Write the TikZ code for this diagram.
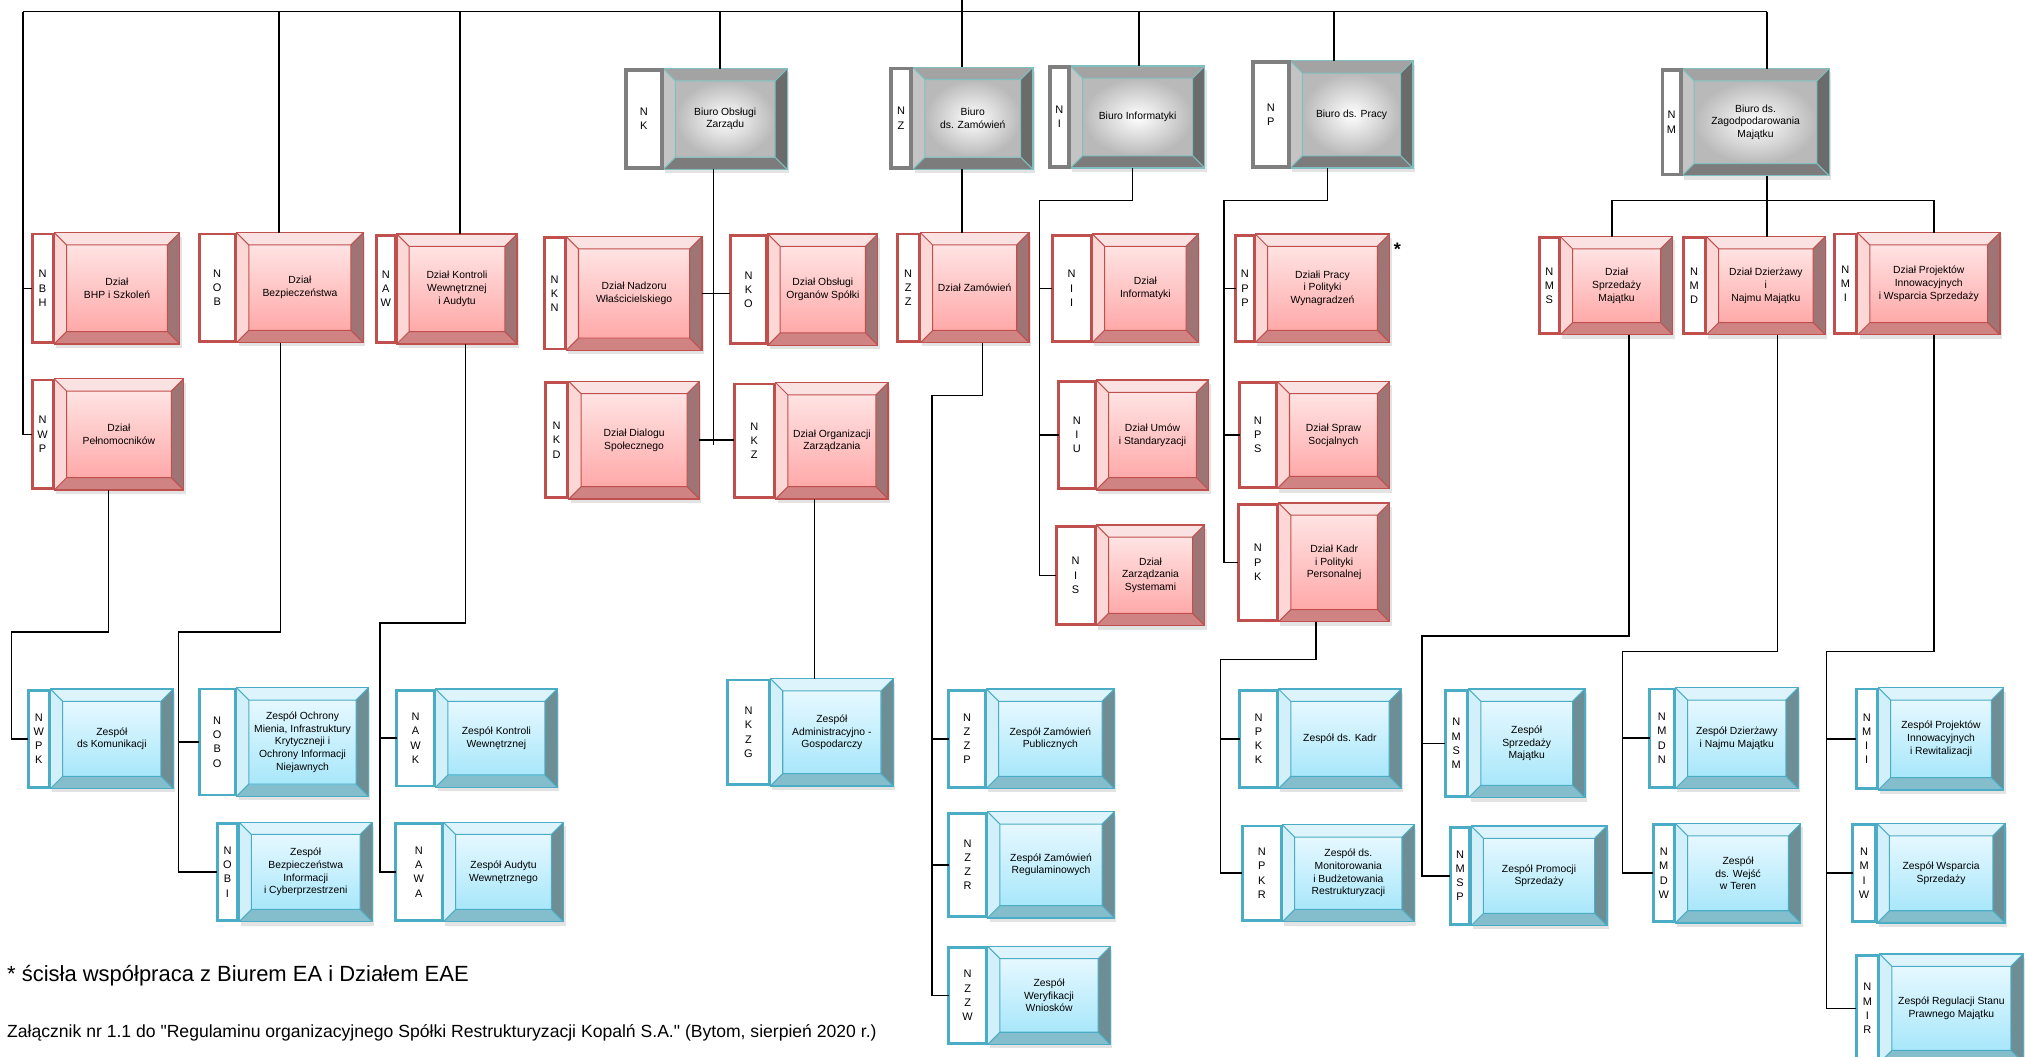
\documentclass[tikz,border=0pt]{standalone}
\usepackage{fontspec}
\setmainfont{Liberation Sans}[Ligatures=TeXOff]
\usetikzlibrary{shadows}
% colours of the three levels
\definecolor{redline}{HTML}{C0504D}
\definecolor{redtop}{HTML}{FBE2E2}
\definecolor{redleft}{HTML}{FDD6D6}
\definecolor{redright}{HTML}{9E7474}
\definecolor{redbottom}{HTML}{CF8383}
\definecolor{redface1}{HTML}{FFE3E3}
\definecolor{redface2}{HTML}{FFA9A9}
\definecolor{blueline}{HTML}{4BACC6}
\definecolor{bluetop}{HTML}{DDF4FC}
\definecolor{blueleft}{HTML}{D2F0FA}
\definecolor{blueright}{HTML}{6E8E96}
\definecolor{bluebottom}{HTML}{84BDCB}
\definecolor{blueface1}{HTML}{E6F8FF}
\definecolor{blueface2}{HTML}{A8E7FA}
\definecolor{grayline}{HTML}{7FBFBF}
\definecolor{graytop}{HTML}{A3A3A3}
\definecolor{grayleft}{HTML}{C4C4C4}
\definecolor{grayright}{HTML}{6B6B6B}
\definecolor{graybottom}{HTML}{7C7C7C}
\definecolor{graytag}{HTML}{7F7F7F}
\newcommand{\bw}{9.5} % bevel width
\tikzset{%
  wire/.style={line width=1.2pt},
  bevel/.style n args={6}{% top, left, right, bottom, face, line
    path picture={
      \path (path picture bounding box.north west) coordinate (p1) ++(\bw,\bw) coordinate (q1)
            (path picture bounding box.north east) coordinate (p2) ++(-\bw,\bw) coordinate (q2)
            (path picture bounding box.south east) coordinate (p3) ++(-\bw,-\bw) coordinate (q3)
            (path picture bounding box.south west) coordinate (p4) ++(\bw,-\bw) coordinate (q4);
      \fill[#1] (p1) -- (p2) -- (q2) -- (q1) -- cycle;
      \fill[#2] (p1) -- (q1) -- (q4) -- (p4) -- cycle;
      \fill[#3] (p2) -- (p3) -- (q3) -- (q2) -- cycle;
      \fill[#4] (p4) -- (q4) -- (q3) -- (p3) -- cycle;
      \shade[#5] (q1) rectangle (q3);
      \draw[#6,line width=.8pt] (q1) rectangle (q3) (p1) -- (q1) (p2) -- (q2) (p3) -- (q3) (p4) -- (q4);
    }
  },
  box/.style={rectangle, inner sep=0pt, outer sep=0pt, line width=1pt, align=center,
    font=\fontsize{8}{9.8}\selectfont,
    drop shadow={opacity=.22, shadow xshift=1.5pt, shadow yshift=-3pt}},
  rbox/.style={box, draw=redline,
    bevel={redtop}{redleft}{redright}{redbottom}{top color=redface1,bottom color=redface2}{redline}},
  bbox/.style={box, draw=blueline,
    bevel={bluetop}{blueleft}{blueright}{bluebottom}{top color=blueface1,bottom color=blueface2}{blueline}},
  gbox/.style={box, draw=grayline,
    bevel={graytop}{grayleft}{grayright}{graybottom}{inner color=white,outer color=gray!55}{grayline}},
  tag/.style={rectangle, fill=white, inner sep=0pt, outer sep=0pt, line width=2.2pt, align=center,
    font=\fontsize{8.5}{11}\selectfont},
  rtag/.style={tag, draw=redline},
  btag/.style={tag, draw=blueline},
  gtag/.style={tag, draw=graytag, line width=3pt}
}
\newcommand{\dept}[9]{% kind, name, letters, x tag, x box, x end, y top, y bottom, text
  \node[#1box, minimum width={#6pt-#5pt}, minimum height={#8pt-#7pt}]
    (#2) at ({(#5+#6)/2},{(#7+#8)/2}) {#9};
  \node[#1tag, minimum width={#5pt-#4pt-2pt}, minimum height={#8pt-#7pt-2pt}]
    (#2-tag) at ({(#4+#5)/2},{(#7+#8)/2}) {#3};
}

\begin{document}
\begin{tikzpicture}[x=1pt,y=-1pt]
  \useasboundingbox (0,0) rectangle (1568,817.6);
  % biura
  \dept{g}{NK}{N\\K}{483}{513}{609}{53}{131}{Biuro Obsługi\\Zarządu}
  \dept{g}{NZ}{N\\Z}{688}{706}{799}{52}{131}{Biuro\\ds. Zamówień}
  \dept{g}{NI}{N\\I}{811}{828}{932}{51}{130}{Biuro Informatyki}
  \dept{g}{NP}{N\\P}{968}{998}{1093}{47}{130}{Biuro ds. Pracy}
  \dept{g}{NM}{N\\M}{1285}{1301}{1415}{53}{136}{Biuro ds.\\Zagodpodarowania\\Majątku}
  % dzialy
  \dept{r}{NBH}{N\\B\\H}{24}{42}{139}{180}{266}{Dział\\BHP i Szkoleń}
  \dept{r}{NWP}{N\\W\\P}{24}{42}{142}{293}{379}{Dział\\Pełnomocników}
  \dept{r}{NOB}{N\\O\\B}{153}{183}{281}{180}{265}{Dział\\Bezpieczeństwa}
  \dept{r}{NAW}{N\\A\\W}{290}{307}{400}{181}{266}{Dział Kontroli\\Wewnętrznej\\i Audytu}
  \dept{r}{NKN}{N\\K\\N}{420}{438}{543}{183}{271}{Dział Nadzoru\\Właścicielskiego}
  \dept{r}{NKD}{N\\K\\D}{421}{440}{541}{295}{386}{Dział Dialogu\\Społecznego}
  \dept{r}{NKO}{N\\K\\O}{564}{594}{679}{181}{267}{Dział Obsługi\\Organów Spółki}
  \dept{r}{NKZ}{N\\K\\Z}{567}{600}{687}{296}{386}{Dział Organizacji\\Zarządzania}
  \dept{r}{NZZ}{N\\Z\\Z}{693}{712}{796}{180}{265}{Dział Zamówień}
  \dept{r}{NII}{N\\I\\I}{813}{845}{927}{181}{265}{Dział\\Informatyki}
  \dept{r}{NIU}{N\\I\\U}{818}{848}{935}{294}{379}{Dział Umów\\i Standaryzacji}
  \dept{r}{NIS}{N\\I\\S}{816}{848}{932}{406}{484}{Dział\\Zarządzania\\Systemami}
  \dept{r}{NPP}{N\\P\\P}{955}{971}{1075}{181}{265}{Działi Pracy\\i Polityki\\Wynagradzeń}
  \dept{r}{NPS}{N\\P\\S}{958}{988}{1075}{295}{378}{Dział Spraw\\Socjalnych}
  \dept{r}{NPK}{N\\P\\K}{957}{989}{1075}{389}{481}{Dział Kadr\\i Polityki\\Personalnej}
  \dept{r}{NMS}{N\\M\\S}{1190}{1207}{1294}{183}{259}{Dział\\Sprzedaży\\Majątku}
  \dept{r}{NMD}{N\\M\\D}{1301}{1320}{1412}{183}{259}{Dział Dzierżawy\\i\\Najmu Majątku}
  \dept{r}{NMI}{N\\M\\I}{1418}{1437}{1547}{180}{259}{Dział Projektów\\Innowacyjnych\\i Wsparcia Sprzedaży}
  % zespoly
  \dept{b}{NWPK}{N\\W\\P\\K}{21}{39}{134}{533}{610}{Zespół\\ds Komunikacji}
  \dept{b}{NOBO}{N\\O\\B\\O}{153}{183}{285}{532}{616}{Zespół Ochrony\\Mienia, Infrastruktury\\Krytyczneji i\\Ochrony Informacji\\Niejawnych}
  \dept{b}{NOBI}{N\\O\\B\\I}{167}{185}{288}{636}{713}{Zespół\\Bezpieczeństwa\\Informacji\\i Cyberprzestrzeni}
  \dept{b}{NAWK}{N\\A\\W\\K}{306}{337}{431}{533}{609}{Zespół Kontroli\\Wewnętrznej}
  \dept{b}{NAWA}{N\\A\\W\\A}{305}{343}{436}{636}{713}{Zespół Audytu\\Wewnętrznego}
  \dept{b}{NKZG}{N\\K\\Z\\G}{562}{596}{691}{525}{608}{Zespół\\Administracyjno -\\Gospodarczy}
  \dept{b}{NZZP}{N\\Z\\Z\\P}{733}{763}{862}{533}{610}{Zespół Zamówień\\Publicznych}
  \dept{b}{NZZR}{N\\Z\\Z\\R}{733}{764}{862}{628}{710}{Zespół Zamówień\\Regulaminowych}
  \dept{b}{NZZW}{N\\Z\\Z\\W}{733}{764}{859}{732}{808}{Zespół\\Weryfikacji\\Wniosków}
  \dept{b}{NPKK}{N\\P\\K\\K}{958}{989}{1084}{533}{610}{Zespół ds. Kadr}
  \dept{b}{NPKR}{N\\P\\K\\R}{960}{992}{1094}{638}{713}{Zespół ds.\\Monitorowania\\i Budżetowania\\Restrukturyzacji}
  \dept{b}{NMSM}{N\\M\\S\\M}{1117}{1136}{1226}{533}{617}{Zespół\\Sprzedaży\\Majątku}
  \dept{b}{NMSP}{N\\M\\S\\P}{1121}{1138}{1243}{639}{716}{Zespół Promocji\\Sprzedaży}
  \dept{b}{NMDN}{N\\M\\D\\N}{1275}{1296}{1391}{532}{610}{Zespół Dzierżawy\\i Najmu Majątku}
  \dept{b}{NMDW}{N\\M\\D\\W}{1278}{1296}{1393}{637}{714}{Zespół\\ds. Wejść\\w Teren}
  \dept{b}{NMII}{N\\M\\I\\I}{1435}{1453}{1550}{532}{611}{Zespół Projektów\\Innowacyjnych\\i Rewitalizacji}
  \dept{b}{NMIW}{N\\M\\I\\W}{1432}{1452}{1551}{637}{714}{Zespół Wsparcia\\Sprzedaży}
  \dept{b}{NMIR}{N\\M\\I\\R}{1435}{1454}{1565}{738}{822}{Zespół Regulacji Stanu\\Prawnego Majątku}
  % top bus
  \coordinate (board) at (744,0);
  \coordinate (bus-w) at (18,9);
  \coordinate (bus-e) at (1367,9);
  \draw[wire] (bus-w) -- (bus-e);
  \draw[wire] (board) -- (NZ.north -| board);
  \foreach \n/\x in {NOB/216,NAW/356,NK/557,NI/881,NP/1032,NM/1367}{
    \coordinate (bus-\n) at (\x,9);
    \draw[wire] (bus-\n) -- (\n.north -| bus-\n);
  }
  % left bus
  \draw[wire] (bus-w) |- (NWP-tag.west);
  \draw[wire] (bus-w |- NBH-tag.west) -- (NBH-tag.west);
  % Biuro Obslugi Zarzadu
  \coordinate (nk-c) at (552,344);
  \draw[wire] (NK.south -| nk-c) -- (nk-c);
  \draw[wire] (NKN.east) -- (NKN.east -| NKO-tag.west);
  \draw[wire] (NKD.east) -- (NKD.east -| NKZ-tag.west);
  \draw[wire] ([xshift=-13.5pt]NKZ.south) -- ([xshift=-13.5pt]NKZG.north);
  % Biuro ds. Zamowien
  \draw[wire] (NZ.south -| board) -- (NZZ.north -| board);
  \coordinate (nz-c) at (721,306);
  \draw[wire] ([xshift=6pt]NZZ.south) |- (nz-c) |- (NZZW-tag.west);
  \foreach \n in {NZZP,NZZR}
    \draw[wire] (nz-c |- \n-tag.west) -- (\n-tag.west);
  % Biuro Informatyki
  \coordinate (ni-c) at (804,155);
  \draw[wire] ([xshift=-4pt]NI.south) |- (ni-c) |- (NIS-tag.west);
  \foreach \n in {NII,NIU}
    \draw[wire] (ni-c |- \n-tag.west) -- (\n-tag.west);
  % Biuro ds. Pracy
  \coordinate (np-c) at (947,155);
  \draw[wire] ([xshift=-18.5pt]NP.south) |- (np-c) |- (NPK-tag.west);
  \foreach \n in {NPP,NPS}
    \draw[wire] (np-c |- \n-tag.west) -- (\n-tag.west);
  \coordinate (npk-c) at (944,510);
  \draw[wire] ([xshift=-14pt]NPK.south) |- (npk-c) |- (NPKR-tag.west);
  \draw[wire] (npk-c |- NPKK-tag.west) -- (NPKK-tag.west);
  % Biuro ds. Zagospodarowania Majatku
  \coordinate (nm-w) at (1247,155);
  \coordinate (nm-e) at (1496,155);
  \draw[wire] (NM.south -| bus-NM) -- (NMD.north -| bus-NM);
  \draw[wire] (nm-w) -- (nm-e);
  \draw[wire] (nm-w) -- (NMS.north -| nm-w);
  \draw[wire] (nm-e) -- (NMI.north -| nm-e);
  \coordinate (nms-c) at (1100,492);
  \draw[wire] ([xshift=9.5pt]NMS.south) |- (nms-c) |- (NMSP-tag.west);
  \draw[wire] (nms-c |- NMSM-tag.west) -- (NMSM-tag.west);
  \coordinate (nmd-c) at (1255,504);
  \draw[wire] ([xshift=9pt]NMD.south) |- (nmd-c) |- (NMDW-tag.west);
  \draw[wire] (nmd-c |- NMDN-tag.west) -- (NMDN-tag.west);
  \coordinate (nmi-c) at (1413,504);
  \draw[wire] ([xshift=4pt]NMI.south) |- (nmi-c) |- (NMIR-tag.west);
  \foreach \n in {NMII,NMIW}
    \draw[wire] (nmi-c |- \n-tag.west) -- (\n-tag.west);
  % Dzial Pelnomocnikow, Bezpieczenstwa, Kontroli
  \coordinate (nwp-c) at (9,489);
  \draw[wire] ([xshift=-8pt]NWP.south) |- (nwp-c) |- (NWPK-tag.west);
  \coordinate (nob-c) at (138,489);
  \draw[wire] ([xshift=-15pt]NOB.south) |- (nob-c) |- (NOBI-tag.west);
  \draw[wire] (nob-c |- NOBO-tag.west) -- (NOBO-tag.west);
  \coordinate (naw-c) at (294,482);
  \draw[wire] ([xshift=6.5pt]NAW.south) |- (naw-c) |- (NAWA-tag.west);
  \draw[wire] (naw-c |- NAWK-tag.west) -- (NAWK-tag.west);
  % notes
  \node[font=\fontsize{14}{14}\selectfont\bfseries] (star) at (1081,193) {*};
  \node[anchor=base west, font=\fontsize{17}{17}\selectfont] (note) at (2,759)
    {* ścisła współpraca z Biurem EA i Działem EAE};
  \node[anchor=base west, font=\fontsize{13.6}{13.6}\selectfont] (annex) at (2,802.5)
    {Załącznik nr 1.1 do "Regulaminu organizacyjnego Spółki Restrukturyzacji Kopalń S.A." (Bytom, sierpień 2020 r.)};
\end{tikzpicture}
\end{document}
